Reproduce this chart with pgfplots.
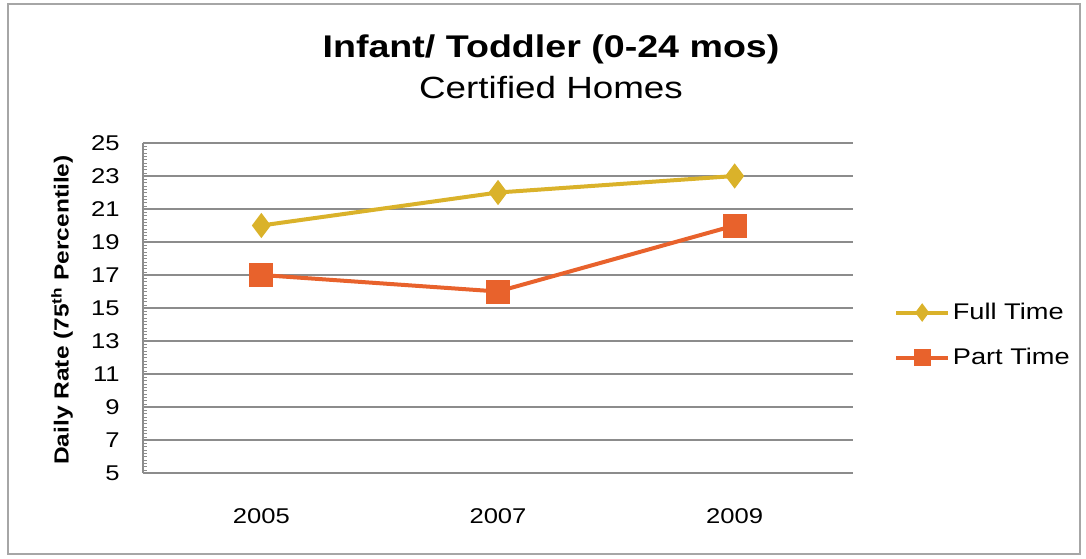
\documentclass[border=0pt]{standalone}
\usepackage{fontspec}
\setmainfont[FakeStretch=1.2]{Liberation Sans}
\usepackage{pgfplots}
\pgfplotsset{compat=1.18}
\definecolor{gold}{RGB}{218,178,42}
\definecolor{orng}{RGB}{232,98,44}
\definecolor{gridg}{RGB}{140,140,140}
\begin{document}
\begin{tikzpicture}[x=0.75pt,y=0.75pt]
\path[use as bounding box] (0,0) rectangle (1086,558);
\draw[gray!70, line width=0.8pt] (8,4) rectangle (1080,554);
\node[font=\fontsize{23.5}{28}\selectfont\bfseries] at (551,509) {Infant/ Toddler (0-24 mos)};
\node[font=\fontsize{23}{26}\selectfont] at (551,470) {Certified Homes};
\node[font=\fontsize{15.3}{18}\selectfont\bfseries, rotate=90] at (62,248) {Daily Rate (75\textsuperscript{th} Percentile)};
\begin{axis}[
  at={(107.25pt,63.75pt)}, anchor=south west,
  scale only axis, width=532.5pt, height=247.5pt,
  xmin=-0.5, xmax=2.5, ymin=5, ymax=25,
  xtick={0,1,2}, xticklabels={2005,2007,2009},
  ytick={5,7,...,25},
  minor y tick num=9,
  axis x line*=bottom, axis y line*=left,
  axis line style={gridg, line width=0.8pt},
  ymajorgrids, grid style={gridg, line width=0.8pt},
  tick align=inside,
  major tick length=0pt, minor tick length=3pt,
  minor tick style={gridg},
  x tick style={draw=none},
  /pgf/number format/assume math mode=true,
  ticklabel style={font=\fontsize{16}{18}\selectfont},
  xticklabel style={yshift=-23pt},
  yticklabel style={xshift=-14pt},
  legend style={at={(1.052,0.418)}, anchor=west, draw=none, fill=none,
    font=\fontsize{17}{20}\selectfont, row sep=16pt,
    /tikz/every even column/.append style={column sep=0pt}},
  legend cell align=left,
  legend image code/.code={\draw[mark repeat=2,mark phase=2,#1] plot coordinates {(0pt,0pt) (19.5pt,0pt) (39pt,0pt)};},
]
\addplot[gold, line width=3pt, mark=diamond*, mark size=7pt, mark options={solid},
  legend image post style={mark size=4.5pt}] coordinates {(0,20) (1,22) (2,23)};
\addlegendentry{Full Time}
\addplot[orng, line width=3pt, mark=square*, mark size=7.5pt, mark options={solid},
  legend image post style={mark size=5pt}] coordinates {(0,17) (1,16) (2,20)};
\addlegendentry{Part Time}
\end{axis}
\end{tikzpicture}
\end{document}
